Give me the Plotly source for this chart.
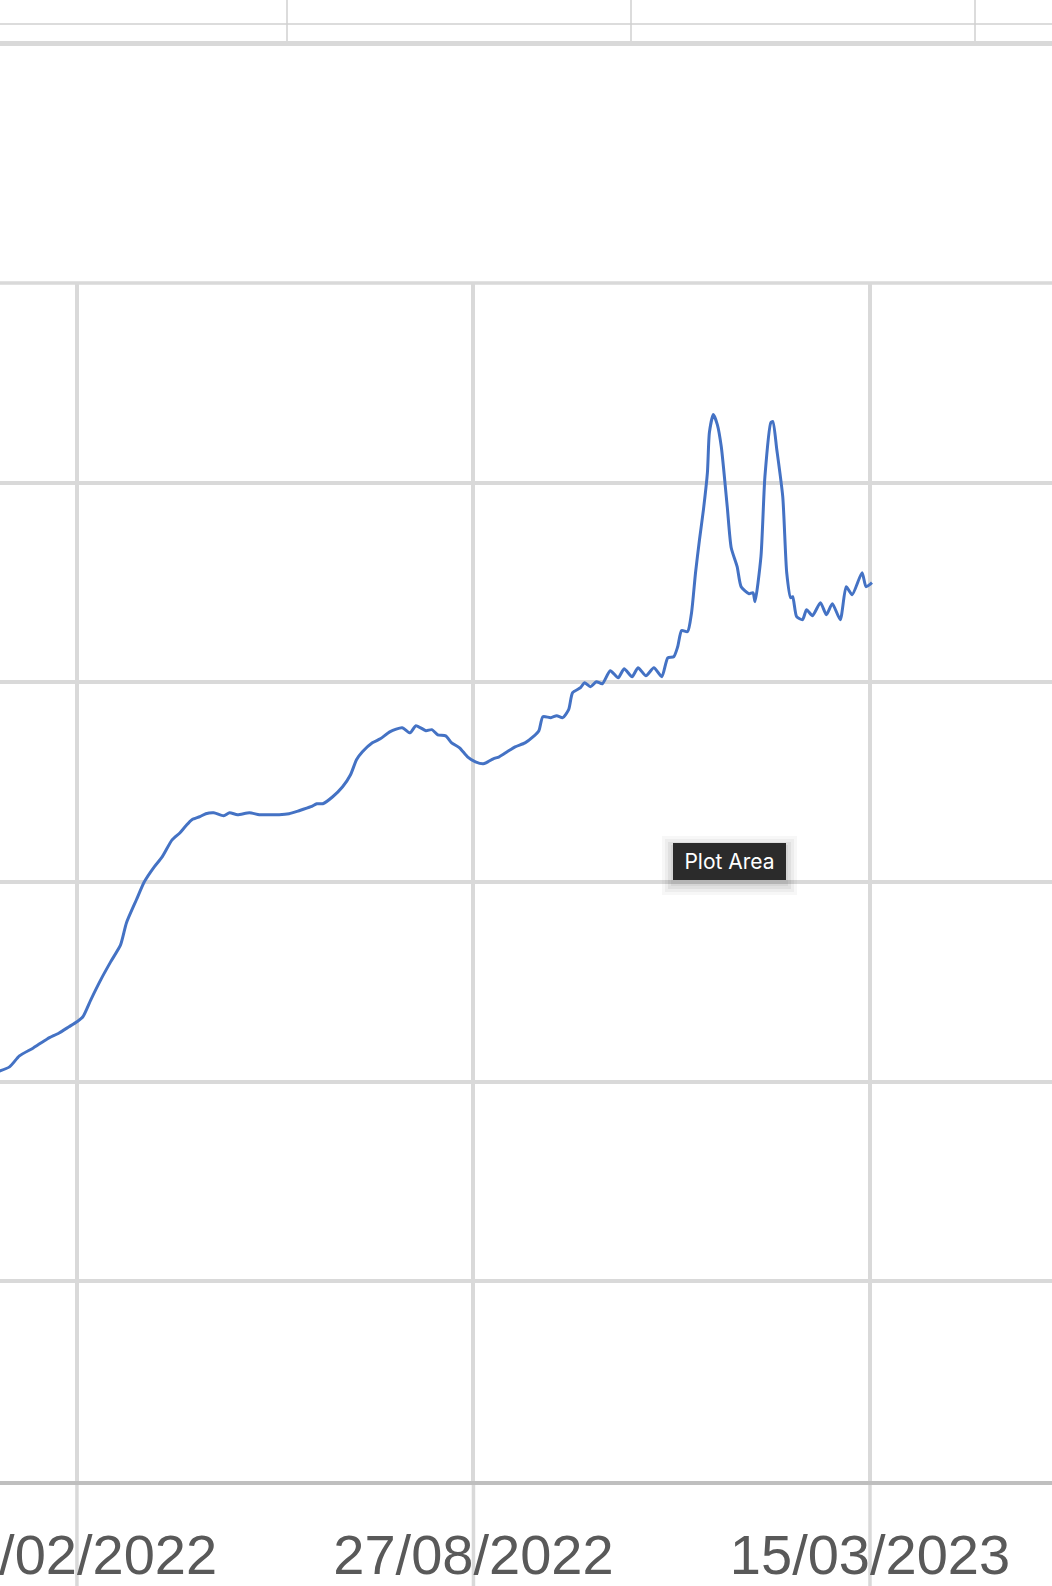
import plotly.graph_objects as go

# ---- data ----
dates = [
    "2021-12-30", "2022-01-05", "2022-01-10", "2022-01-17", "2022-01-24", "2022-01-30", "2022-02-04",
    "2022-02-08", "2022-02-11", "2022-02-15", "2022-02-20", "2022-02-25", "2022-03-02", "2022-03-05",
    "2022-03-10", "2022-03-14", "2022-03-19", "2022-03-23", "2022-03-28", "2022-04-01", "2022-04-04",
    "2022-04-07", "2022-04-11", "2022-04-14", "2022-04-18", "2022-04-23", "2022-04-26", "2022-04-30",
    "2022-05-06", "2022-05-11", "2022-05-16", "2022-05-21", "2022-05-26", "2022-05-31", "2022-06-06",
    "2022-06-09", "2022-06-12", "2022-06-17", "2022-06-22", "2022-06-26", "2022-06-29", "2022-07-02",
    "2022-07-07", "2022-07-11", "2022-07-16", "2022-07-22", "2022-07-26", "2022-07-29", "2022-08-03",
    "2022-08-06", "2022-08-09", "2022-08-13", "2022-08-16", "2022-08-20", "2022-08-24", "2022-08-28",
    "2022-09-01", "2022-09-06", "2022-09-09", "2022-09-13", "2022-09-17", "2022-09-22", "2022-09-26",
    "2022-09-29", "2022-10-01", "2022-10-05", "2022-10-08", "2022-10-11", "2022-10-14", "2022-10-16",
    "2022-10-20", "2022-10-22", "2022-10-25", "2022-10-28", "2022-10-31", "2022-11-04", "2022-11-08",
    "2022-11-11", "2022-11-15", "2022-11-18", "2022-11-22", "2022-11-26", "2022-11-30", "2022-12-03",
    "2022-12-06", "2022-12-08", "2022-12-10", "2022-12-13", "2022-12-15", "2022-12-17", "2022-12-19",
    "2022-12-21", "2022-12-23", "2022-12-24", "2022-12-26", "2022-12-28", "2022-12-30", "2023-01-02",
    "2023-01-04", "2023-01-07", "2023-01-09", "2023-01-13", "2023-01-15", "2023-01-16", "2023-01-19",
    "2023-01-21", "2023-01-24", "2023-01-25", "2023-01-27", "2023-01-30", "2023-02-01", "2023-02-03",
    "2023-02-04", "2023-02-06", "2023-02-09", "2023-02-11", "2023-02-14", "2023-02-18", "2023-02-21",
    "2023-02-24", "2023-02-28", "2023-03-03", "2023-03-06", "2023-03-11", "2023-03-13", "2023-03-16",
]
values = [
    20.5, 20.74, 21.29, 21.69, 22.14, 22.44, 22.75, 23.0, 23.25, 24.10,
    25.10, 26.0, 26.85, 27.96, 29.11, 30.01, 30.76, 31.26, 32.11, 32.47,
    32.82, 33.12, 33.27, 33.42, 33.47, 33.32, 33.47, 33.37, 33.47, 33.37,
    33.37, 33.37, 33.42, 33.57, 33.77, 33.92, 33.92, 34.27, 34.77, 35.37,
    36.12, 36.52, 36.97, 37.17, 37.53, 37.73, 37.47, 37.83, 37.58, 37.63,
    37.37, 37.32, 36.97, 36.72, 36.27, 36.02, 35.92, 36.17, 36.27, 36.52,
    36.77, 36.97, 37.27, 37.58, 38.28, 38.23, 38.33, 38.23, 38.63, 39.48,
    39.73, 39.98, 39.78, 40.03, 39.93, 40.58, 40.23, 40.68, 40.28, 40.73,
    40.33, 40.73, 40.28, 41.23, 41.28, 41.78, 42.59, 42.54, 43.49, 45.49,
    47.14, 48.65, 50.50, 52.51, 53.41, 52.91, 51.80, 48.80, 46.74, 45.79,
    44.79, 44.44, 44.49, 44.04, 46.29, 50.30, 53.01, 53.06, 51.65, 49.30,
    45.49, 44.24, 44.29, 43.29, 43.14, 43.64, 43.34, 43.99, 43.39, 43.94,
    43.14, 44.79, 44.39, 45.49, 44.79, 44.99,
]
tick_dates = ["2022-02-08", "2022-08-27", "2023-03-15"]
tick_labels = ["08/02/2022", "27/08/2022", "15/03/2023"]
y_ticks = [0, 10, 20, 30, 40, 50, 60]

# ---- layout geometry ----
W, H = 1052, 1586
TOP, BOT = 283, 1481          # plot area top/bottom in px
PH = BOT - TOP


def py(p):
    """pixel y -> paper y"""
    return (BOT - p) / PH


def px(p):
    return p / W


GRID = "#D9D9D9"

fig = go.Figure()
fig.add_trace(go.Scatter(
    x=dates, y=values, mode="lines",
    line=dict(color="#4472C4", width=3, shape="spline", smoothing=0.6),
    hoverinfo="skip", showlegend=False,
))

shapes = []
# spreadsheet cell borders at the very top
shapes.append(dict(type="line", xref="paper", yref="paper", x0=0, x1=1, y0=py(24), y1=py(24),
                   line=dict(color="#D0D0D0", width=1.5), layer="above"))
for cx in [287, 631, 975]:
    shapes.append(dict(type="line", xref="paper", yref="paper", x0=px(cx), x1=px(cx),
                       y0=py(0), y1=py(41), line=dict(color="#D0D0D0", width=1.5), layer="above"))
shapes.append(dict(type="rect", xref="paper", yref="paper", x0=0, x1=1, y0=py(46), y1=py(41),
                   fillcolor="#D9D9D9", line=dict(width=0), layer="above"))
# top grid line at the upper edge of the plot area (not clipped)
shapes.append(dict(type="line", xref="paper", yref="paper", x0=0, x1=1, y0=1, y1=1,
                   line=dict(color=GRID, width=3.5), layer="below"))
# vertical grid lines continuing below the axis
for d in tick_dates:
    shapes.append(dict(type="line", xref="x", yref="paper", x0=d, x1=d, y0=py(H + 5), y1=0,
                       line=dict(color=GRID, width=3.5), layer="below"))
# tooltip shadow
for i, a in enumerate([0.05, 0.05, 0.04, 0.03]):
    g = 2 + i * 3
    shapes.append(dict(type="rect", xref="paper", yref="paper",
                       x0=px(673 - g), x1=px(786 + g), y0=py(880 + g + 4), y1=py(843 - g + 4),
                       fillcolor=f"rgba(0,0,0,{a})", line=dict(width=0), layer="above"))

fig.update_layout(
    width=W, height=H,
    margin=dict(l=0, r=0, t=TOP, b=H - BOT, pad=0, autoexpand=False),
    paper_bgcolor="white", plot_bgcolor="white",
    shapes=shapes,
    xaxis=dict(
        type="date", automargin=False,
        range=["2021-12-31 04:48", "2023-06-14 19:12"],
        tickmode="array", tickvals=tick_dates, ticktext=tick_labels,
        showgrid=True, gridcolor=GRID, gridwidth=3.5,
        showline=True, linecolor="#BFBFBF", linewidth=3.5,
        ticks="outside", ticklen=22, tickcolor="rgba(0,0,0,0)", tickwidth=1,
        tickfont=dict(family="Liberation Sans, Arial, sans-serif", size=56, color="#595959"),
        ticklabeloverflow="allow",
        zeroline=False, fixedrange=True,
    ),
    yaxis=dict(
        range=[0, 60], tickmode="array", tickvals=y_ticks, automargin=False,
        showgrid=True, gridcolor=GRID, gridwidth=3.5,
        showticklabels=False, zeroline=False, showline=False, fixedrange=True,
    ),
    annotations=[dict(
        text="Plot Area", xref="paper", yref="paper",
        x=px(729.5), y=py(861.5), xanchor="center", yanchor="middle",
        showarrow=False, bgcolor="#2B2B2B", borderpad=6, borderwidth=0,
        width=101, height=25,
        font=dict(family="Inter, Roboto, sans-serif", size=21, color="white"),
    )],
)

fig.write_html(
    "out.html",
    config={"displayModeBar": False},
    post_script="document.body.style.margin='0';document.body.style.overflow='hidden';",
)
